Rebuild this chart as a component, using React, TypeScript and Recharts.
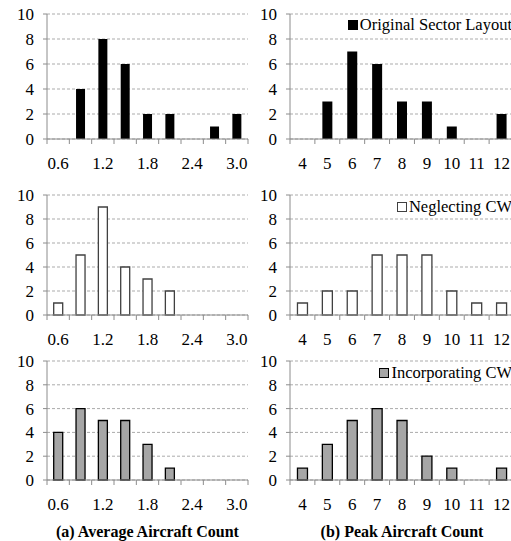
import React from "react";
import { BarChart, Bar, XAxis, YAxis, CartesianGrid } from "recharts";

// categories + tick labels
const avgCategories = ["0.6", "0.9", "1.2", "1.5", "1.8", "2.1", "2.4", "2.7", "3.0"];
const avgTickLabels = ["0.6", "1.2", "1.8", "2.4", "3.0"];
const peakCategories = ["4", "5", "6", "7", "8", "9", "10", "11", "12"];
const peakTickLabels = ["4", "5", "6", "7", "8", "9", "10", "11", "12"];
const yTicks = [0, 2, 4, 6, 8, 10];

// number of sectors per bin
const avgOriginal = [0, 4, 8, 6, 2, 2, 0, 1, 2];
const avgNeglecting = [1, 5, 9, 4, 3, 2, 0, 0, 0];
const avgIncorporating = [4, 6, 5, 5, 3, 1, 0, 0, 0];
const peakOriginal = [0, 3, 7, 6, 3, 3, 1, 0, 2];
const peakNeglecting = [1, 2, 2, 5, 5, 5, 2, 1, 1];
const peakIncorporating = [1, 3, 5, 6, 5, 2, 1, 0, 1];

const seriesNames = ["Original Sector Layout", "Neglecting CW", "Incorporating CW"];
const captions = ["(a) Average Aircraft Count", "(b) Peak Aircraft Count"];

const FONT = "Liberation Serif";
const AXIS = "#8c8c8c";
const GRID = "#ababab";

const seriesStyle = [
  { fill: "#000000", stroke: "#000000" },
  { fill: "#ffffff", stroke: "#404040" },
  { fill: "#a6a6a6", stroke: "#000000" },
];

const rows = [
  { plotTop: 14, plotH: 125, legendTop: 17 },
  { plotTop: 195, plotH: 120, legendTop: 199 },
  { plotTop: 361, plotH: 119, legendTop: 365 },
];

const cols = [
  { left: 0, plotW: 201, marginRight: 8 },
  { left: 243, plotW: 224, marginRight: 6 },
];

const Y_AXIS_W = 47;
const TOP_PAD = 10;
const X_AXIS_H = 40;

const makeTick = (labels: string[], bandW: number, count: number) => (props: any) => {
  const { x, y, payload, index } = props;
  const left = x - bandW / 2;
  return (
    <g>
      <line x1={left} x2={left} y1={y} y2={y + 5} stroke={AXIS} />
      {index === count - 1 && (
        <line x1={x + bandW / 2} x2={x + bandW / 2} y1={y} y2={y + 5} stroke={AXIS} />
      )}
      {labels.includes(payload.value) && (
        <text
          x={x}
          y={y + 24}
          textAnchor="middle"
          dominantBaseline="central"
          style={{ fontFamily: FONT, fontSize: 17 }}
          fill="#000"
        >
          {payload.value}
        </text>
      )}
    </g>
  );
};

type PanelProps = {
  col: number;
  row: number;
  categories: string[];
  labels: string[];
  values: number[];
};

const Panel = ({ col, row, categories, labels, values }: PanelProps) => {
  const c = cols[col];
  const r = rows[row];
  const data = categories.map((name, i) => ({ name, value: values[i] }));
  const width = Y_AXIS_W + c.plotW + c.marginRight;
  const height = TOP_PAD + r.plotH + X_AXIS_H;
  const bandW = c.plotW / categories.length;
  const st = seriesStyle[row];

  return (
    <div style={{ position: "absolute", left: c.left, top: r.plotTop - TOP_PAD }}>
      <BarChart
        width={width}
        height={height}
        data={data}
        margin={{ top: TOP_PAD, right: c.marginRight, bottom: 0, left: 0 }}
        barCategoryGap="30%"
        style={{ fontFamily: FONT }}
      >
        <CartesianGrid vertical={false} stroke={GRID} strokeDasharray="3 2" />
        <XAxis
          dataKey="name"
          interval={0}
          height={X_AXIS_H}
          tickSize={0}
          tickMargin={0}
          tickLine={false}
          axisLine={{ stroke: AXIS }}
          tick={makeTick(labels, bandW, categories.length)}
        />
        <YAxis
          width={Y_AXIS_W}
          domain={[0, 10]}
          ticks={yTicks}
          interval={0}
          tickSize={4}
          tickMargin={9}
          axisLine={{ stroke: AXIS }}
          tickLine={{ stroke: AXIS }}
          tick={{ style: { fontFamily: FONT }, fontSize: 17, fill: "#000" }}
        />
        <Bar
          dataKey="value"
          fill={st.fill}
          stroke={st.stroke}
          strokeWidth={row === 0 ? 0 : 1.3}
          isAnimationActive={false}
        />
      </BarChart>
    </div>
  );
};

const LegendBox = ({ row }: { row: number }) => {
  const st = seriesStyle[row];
  return (
    <div
      style={{
        position: "absolute",
        right: -1,
        top: rows[row].legendTop,
        display: "flex",
        alignItems: "center",
        fontFamily: FONT,
        fontSize: 16.5,
        lineHeight: "16px",
        color: "#000",
        whiteSpace: "nowrap",
      }}
    >
      <span
        style={{
          display: "inline-block",
          width: 8,
          height: 8,
          background: st.fill,
          border: `1px solid ${st.stroke}`,
          marginRight: 2,
        }}
      />
      {seriesNames[row]}
    </div>
  );
};

export default function App() {
  return (
    <div
      style={{
        position: "absolute",
        left: 0,
        top: 0,
        width: 511,
        height: 541,
        overflow: "hidden",
        background: "#fff",
        fontFamily: FONT,
      }}
    >
      <Panel col={0} row={0} categories={avgCategories} labels={avgTickLabels} values={avgOriginal} />
      <Panel col={0} row={1} categories={avgCategories} labels={avgTickLabels} values={avgNeglecting} />
      <Panel col={0} row={2} categories={avgCategories} labels={avgTickLabels} values={avgIncorporating} />
      <Panel col={1} row={0} categories={peakCategories} labels={peakTickLabels} values={peakOriginal} />
      <Panel col={1} row={1} categories={peakCategories} labels={peakTickLabels} values={peakNeglecting} />
      <Panel col={1} row={2} categories={peakCategories} labels={peakTickLabels} values={peakIncorporating} />

      <LegendBox row={0} />
      <LegendBox row={1} />
      <LegendBox row={2} />

      {captions.map((text, i) => (
        <div
          key={text}
          style={{
            position: "absolute",
            left: cols[i].left + Y_AXIS_W - 60,
            width: cols[i].plotW + 120,
            top: 523,
            textAlign: "center",
            fontFamily: FONT,
            fontWeight: "bold",
            fontSize: 16,
            lineHeight: "18px",
            color: "#000",
          }}
        >
          {text}
        </div>
      ))}
    </div>
  );
}
